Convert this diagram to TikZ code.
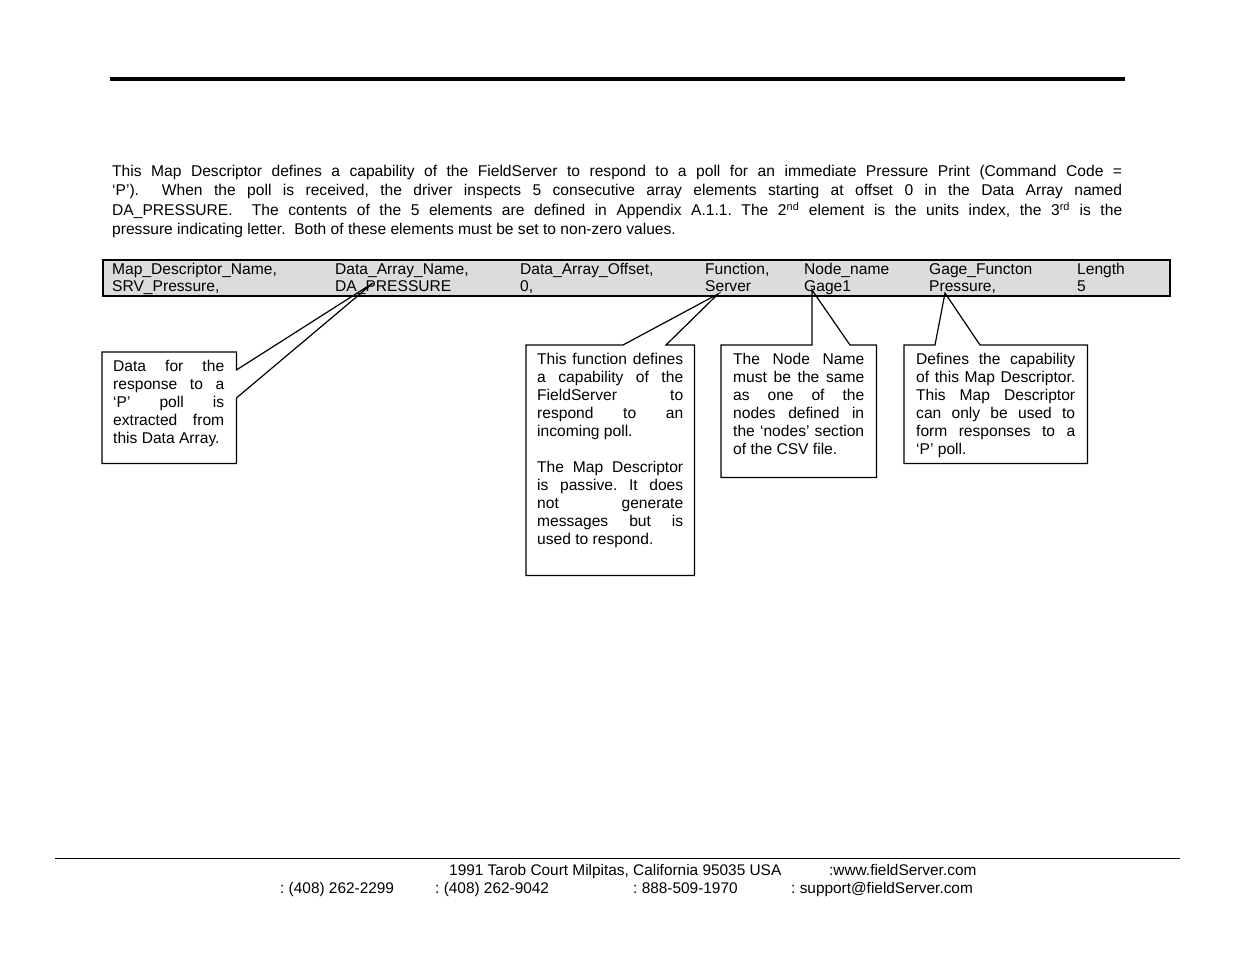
\documentclass[tikz,border=0pt]{standalone}
\usepackage{fontspec}
\setmainfont{Liberation Sans}
\usetikzlibrary{positioning, calc}
\definecolor{barfill}{HTML}{DCDCDC}
\tikzset{
  mdbar/.style={draw=black, fill=barfill, line width=1.1pt},
  field/.style={anchor=base west, inner sep=0pt, font=\fontsize{15.6}{18}\selectfont},
  notebox/.style={rectangle, fill=white, inner sep=0pt, anchor=north west},
  notetext/.style={anchor=north west, inner sep=0pt, align=justify,
                   font=\fontsize{15.6}{18}\selectfont},
  outline/.style={draw=black, line width=1.2pt, line join=miter},
  foot/.style={anchor=base west, inner sep=0pt, font=\fontsize{15.4}{18}\selectfont},
}
\hyphenpenalty=10000
\frenchspacing

\begin{document}
\begin{tikzpicture}[x=1pt, y=-1pt]
  \useasboundingbox[fill=white] (0,0) rectangle (1235,954);

  % page header rule
  \coordinate (hl) at (110,79);
  \coordinate (hr) at (1125,79);
  \draw[line width=4pt] (hl) -- (hr);

  % description
  \node[anchor=north west, inner sep=0pt, text width=1010pt, align=justify,
        font=\fontsize{15.6}{19.4}\selectfont] (intro) at (112,165)
    {This Map Descriptor defines a capability of the FieldServer to respond to a poll for an immediate Pressure Print (Command Code =\linebreak
     ‘P’).\ \ When the poll is received, the driver inspects 5 consecutive array elements starting at offset 0 in the Data Array named\linebreak
     DA\_PRESSURE.\ \ The contents of the 5 elements are defined in Appendix A.1.1. The 2\textsuperscript{nd} element is the units index, the 3\textsuperscript{rd} is the\linebreak
     pressure indicating letter.\ \ Both of these elements must be set to non-zero values.};

  % map descriptor line
  \draw[mdbar] (103,260) rectangle (1170,296);
  \node[field] (h1) at (112,274)  {Map\_Descriptor\_Name,};
  \node[field] (v1) at (112,291.5)  {SRV\_Pressure,};
  \node[field] (h2) at (335,274)  {Data\_Array\_Name,};
  \node[field] (v2) at (335,291.5)  {DA\_PRESSURE};
  \node[field] (h3) at (520,274)  {Data\_Array\_Offset,};
  \node[field] (v3) at (520,291.5)  {0,};
  \node[field] (h4) at (705,274)  {Function,};
  \node[field] (v4) at (705,291.5)  {Server};
  \node[field] (h5) at (804,274)  {Node\_name};
  \node[field] (v5) at (804,291.5)  {Gage1};
  \node[field] (h6) at (929,274)  {Gage\_Functon};
  \node[field] (v6) at (929,291.5)  {Pressure,};
  \node[field] (h7) at (1077,274) {Length};
  \node[field] (v7) at (1077,291.5) {5};

  % pointer tips
  \coordinate (tip1) at (373,283);
  \coordinate (tip2) at (718,294);
  \coordinate (tip3) at (812,290);
  \coordinate (tip4) at (945,293);

  % callout 1
  \node[notebox, minimum width=134pt, minimum height=111pt] (c1) at (102,352) {};
  \draw[outline] (c1.north east) -- ($(c1.north east)+(0,18)$) -- (tip1)
    -- ($(c1.north east)+(0,46)$) -- (c1.south east) -- (c1.south west)
    -- (c1.north west) -- cycle;
  \node[notetext, text width=111pt] (t1) at (113,360)
    {Data for the\linebreak response to a\linebreak ‘P’ poll is\linebreak
     extracted from\linebreak this Data Array.};

  % callout 2
  \node[notebox, minimum width=168pt, minimum height=230pt] (c2) at (526,345) {};
  \draw[outline] (c2.north west) -- ($(c2.north west)+(97,0)$) -- (tip2)
    -- ($(c2.north west)+(140,0)$) -- (c2.north east) -- (c2.south east)
    -- (c2.south west) -- cycle;
  \node[notetext, text width=146pt] (t2) at (537,353)
    {This function defines\linebreak a capability of the\linebreak FieldServer to\linebreak
     respond to an\linebreak incoming poll.\par\vspace{18pt}
     The Map Descriptor\linebreak is passive. It does\linebreak not generate\linebreak
     messages but is\linebreak used to respond.};

  % callout 3
  \node[notebox, minimum width=155pt, minimum height=132pt] (c3) at (721,345) {};
  \draw[outline] (c3.north west) -- ($(c3.north west)+(91,0)$) -- (tip3)
    -- ($(c3.north west)+(129,0)$) -- (c3.north east) -- (c3.south east)
    -- (c3.south west) -- cycle;
  \node[notetext, text width=131pt] (t3) at (733,353)
    {The Node Name\linebreak must be the same\linebreak as one of the\linebreak
     nodes defined in\linebreak the ‘nodes’ section\linebreak of the CSV file.};

  % callout 4
  \node[notebox, minimum width=183pt, minimum height=118pt] (c4) at (904,345) {};
  \draw[outline] (c4.north west) -- ($(c4.north west)+(31,0)$) -- (tip4)
    -- ($(c4.north west)+(76,0)$) -- (c4.north east) -- (c4.south east)
    -- (c4.south west) -- cycle;
  \node[notetext, text width=159pt] (t4) at (916,353)
    {Defines the capability\linebreak of this Map Descriptor.\linebreak This Map Descriptor\linebreak
     can only be used to\linebreak form responses to a\linebreak ‘P’ poll.};

  % footer
  \coordinate (fl) at (55,858);
  \coordinate (fr) at (1180,858);
  \draw[line width=1pt] (fl) -- (fr);
  \node[foot] (addr)  at (449,875) {1991 Tarob Court Milpitas, California 95035 USA};
  \node[foot] (web)   at (829,875) {:www.fieldServer.com};
  \node[foot] (tel)   at (280,893) {: (408) 262-2299};
  \node[foot] (fax)   at (435,893) {: (408) 262-9042};
  \node[foot] (free)  at (633,893) {: 888-509-1970};
  \node[foot] (mail)  at (791,893) {: support@fieldServer.com};
\end{tikzpicture}
\end{document}
